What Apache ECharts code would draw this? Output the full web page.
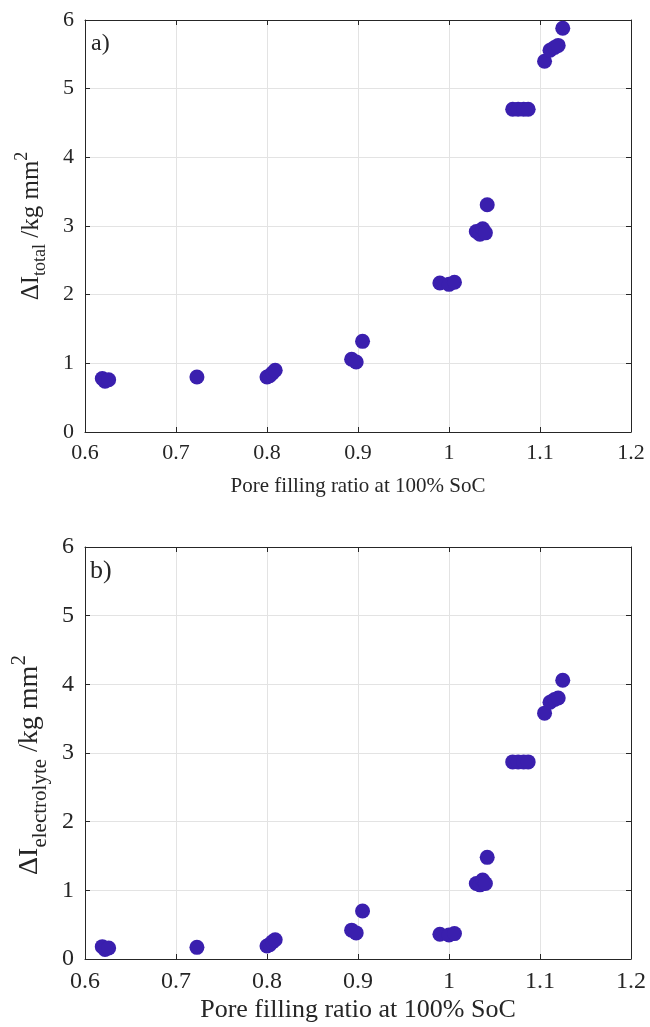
<!DOCTYPE html>
<html>
<head>
<meta charset="utf-8">
<script src="https://cdn.jsdelivr.net/npm/echarts@6/dist/echarts.min.js"></script>
<style>
  html, body { margin: 0; padding: 0; background: #fff; }
  #chart { width: 650px; height: 1027px; }
</style>
</head>
<body>
<div id="chart"></div>
<script>
// pore filling ratio at 100% SoC (x)
const poreRatio = [0.619, 0.622, 0.626, 0.723, 0.800, 0.803, 0.806, 0.809, 0.893, 0.898, 0.905,
  0.990, 1.000, 1.006, 1.030, 1.034, 1.037, 1.040, 1.042, 1.070, 1.076, 1.082, 1.087,
  1.105, 1.111, 1.116, 1.120, 1.125];
// a) delta I total
const deltaTotal = [0.78, 0.74, 0.76, 0.80, 0.80, 0.82, 0.86, 0.90, 1.06, 1.02, 1.32,
  2.17, 2.15, 2.18, 2.92, 2.88, 2.96, 2.90, 3.31, 4.70, 4.70, 4.70, 4.70,
  5.40, 5.56, 5.60, 5.63, 5.88];
// b) delta I electrolyte
const deltaElectrolyte = [0.18, 0.14, 0.16, 0.17, 0.19, 0.21, 0.25, 0.28, 0.42, 0.38, 0.70,
  0.36, 0.35, 0.37, 1.10, 1.08, 1.15, 1.10, 1.48, 2.87, 2.87, 2.87, 2.87,
  3.58, 3.74, 3.78, 3.80, 4.06];
const xTicks = [0.6, 0.7, 0.8, 0.9, 1.0, 1.1, 1.2];
const yTicks = [0, 1, 2, 3, 4, 5, 6];

const font = 'Liberation Serif';
const ink = '#262626';
const dotColor = '#3a1fae';
const gridColor = '#e3e3e3';

function mainX(gridIndex, f) {
  return {
    type: 'value', gridIndex: gridIndex,
    min: xTicks[0], max: xTicks[xTicks.length - 1], interval: 0.1,
    name: 'Pore filling ratio at 100% SoC',
    nameLocation: 'middle', nameGap: f.nameGap,
    nameTextStyle: { fontFamily: font, fontSize: f.name, color: ink },
    axisLine: { show: true, onZero: false, lineStyle: { color: ink, width: 1 } },
    axisTick: { show: true, inside: true, length: 5, lineStyle: { color: ink } },
    axisLabel: { fontFamily: font, fontSize: f.tick, color: ink, margin: f.margin,
      formatter: v => String(+v.toFixed(1)) },
    splitLine: { show: true, lineStyle: { color: gridColor, width: 1 } }
  };
}
function topX(gridIndex) {
  return {
    type: 'value', gridIndex: gridIndex, position: 'top',
    min: xTicks[0], max: xTicks[xTicks.length - 1], interval: 0.1,
    axisLine: { show: true, onZero: false, lineStyle: { color: ink, width: 1 } },
    axisTick: { show: true, inside: true, length: 5, lineStyle: { color: ink } },
    axisLabel: { show: false }, splitLine: { show: false }
  };
}
function mainY(gridIndex, sub, f) {
  return {
    type: 'value', gridIndex: gridIndex,
    min: yTicks[0], max: yTicks[yTicks.length - 1], interval: 1,
    name: '{a|ΔI}{s|' + sub + '}{a| /kg mm}{p|2}',
    nameLocation: 'middle', nameGap: f.yGap, nameRotate: 90,
    nameTextStyle: {
      fontFamily: font, color: ink, padding: f.yPad,
      rich: {
        a: { fontFamily: font, fontSize: f.yMain, color: ink, lineHeight: f.lh, verticalAlign: 'middle' },
        s: { fontFamily: font, fontSize: f.ySub, color: ink, lineHeight: f.lh, verticalAlign: 'bottom' },
        p: { fontFamily: font, fontSize: f.ySub, color: ink, lineHeight: f.lh, verticalAlign: 'top' }
      }
    },
    axisLine: { show: true, onZero: false, lineStyle: { color: ink, width: 1 } },
    axisTick: { show: true, inside: true, length: 5, lineStyle: { color: ink } },
    axisLabel: { fontFamily: font, fontSize: f.tick, color: ink, margin: 11 },
    splitLine: { show: true, lineStyle: { color: gridColor, width: 1 } }
  };
}
function rightY(gridIndex) {
  return {
    type: 'value', gridIndex: gridIndex, position: 'right',
    min: yTicks[0], max: yTicks[yTicks.length - 1], interval: 1,
    axisLine: { show: true, onZero: false, lineStyle: { color: ink, width: 1 } },
    axisTick: { show: true, inside: true, length: 5, lineStyle: { color: ink } },
    axisLabel: { show: false }, splitLine: { show: false }
  };
}

const fontTop = { tick: 22, name: 21, nameGap: 44, margin: 10, yMain: 25, ySub: 18, lh: 36, yGap: 36, yPad: 0 };
const fontBottom = { tick: 24, name: 26, nameGap: 38, margin: 11, yMain: 28, ySub: 21, lh: 42, yGap: 28, yPad: [0, 24, 0, 0] };

const chart = echarts.init(document.getElementById('chart'));
chart.setOption({
  backgroundColor: '#fff',
  animation: false,
  grid: [
    { left: 85, top: 20, width: 546, height: 412 },
    { left: 85, top: 547, width: 546, height: 412 }
  ],
  xAxis: [mainX(0, fontTop), topX(0), mainX(1, fontBottom), topX(1)],
  yAxis: [mainY(0, 'total', fontTop), rightY(0), mainY(1, 'electrolyte', fontBottom), rightY(1)],
  graphic: [
    { type: 'text', left: 91, top: 32, style: { text: 'a)', fontFamily: font, fontSize: 24, fill: ink } },
    { type: 'text', left: 90, top: 558, style: { text: 'b)', fontFamily: font, fontSize: 26, fill: ink } }
  ],
  series: [
    {
      type: 'scatter', xAxisIndex: 0, yAxisIndex: 0,
      symbolSize: 15, itemStyle: { color: dotColor, opacity: 1 },
      data: poreRatio.map((x, i) => [x, deltaTotal[i]])
    },
    {
      type: 'scatter', xAxisIndex: 2, yAxisIndex: 2,
      symbolSize: 15, itemStyle: { color: dotColor, opacity: 1 },
      data: poreRatio.map((x, i) => [x, deltaElectrolyte[i]])
    }
  ]
});
</script>
</body>
</html>
